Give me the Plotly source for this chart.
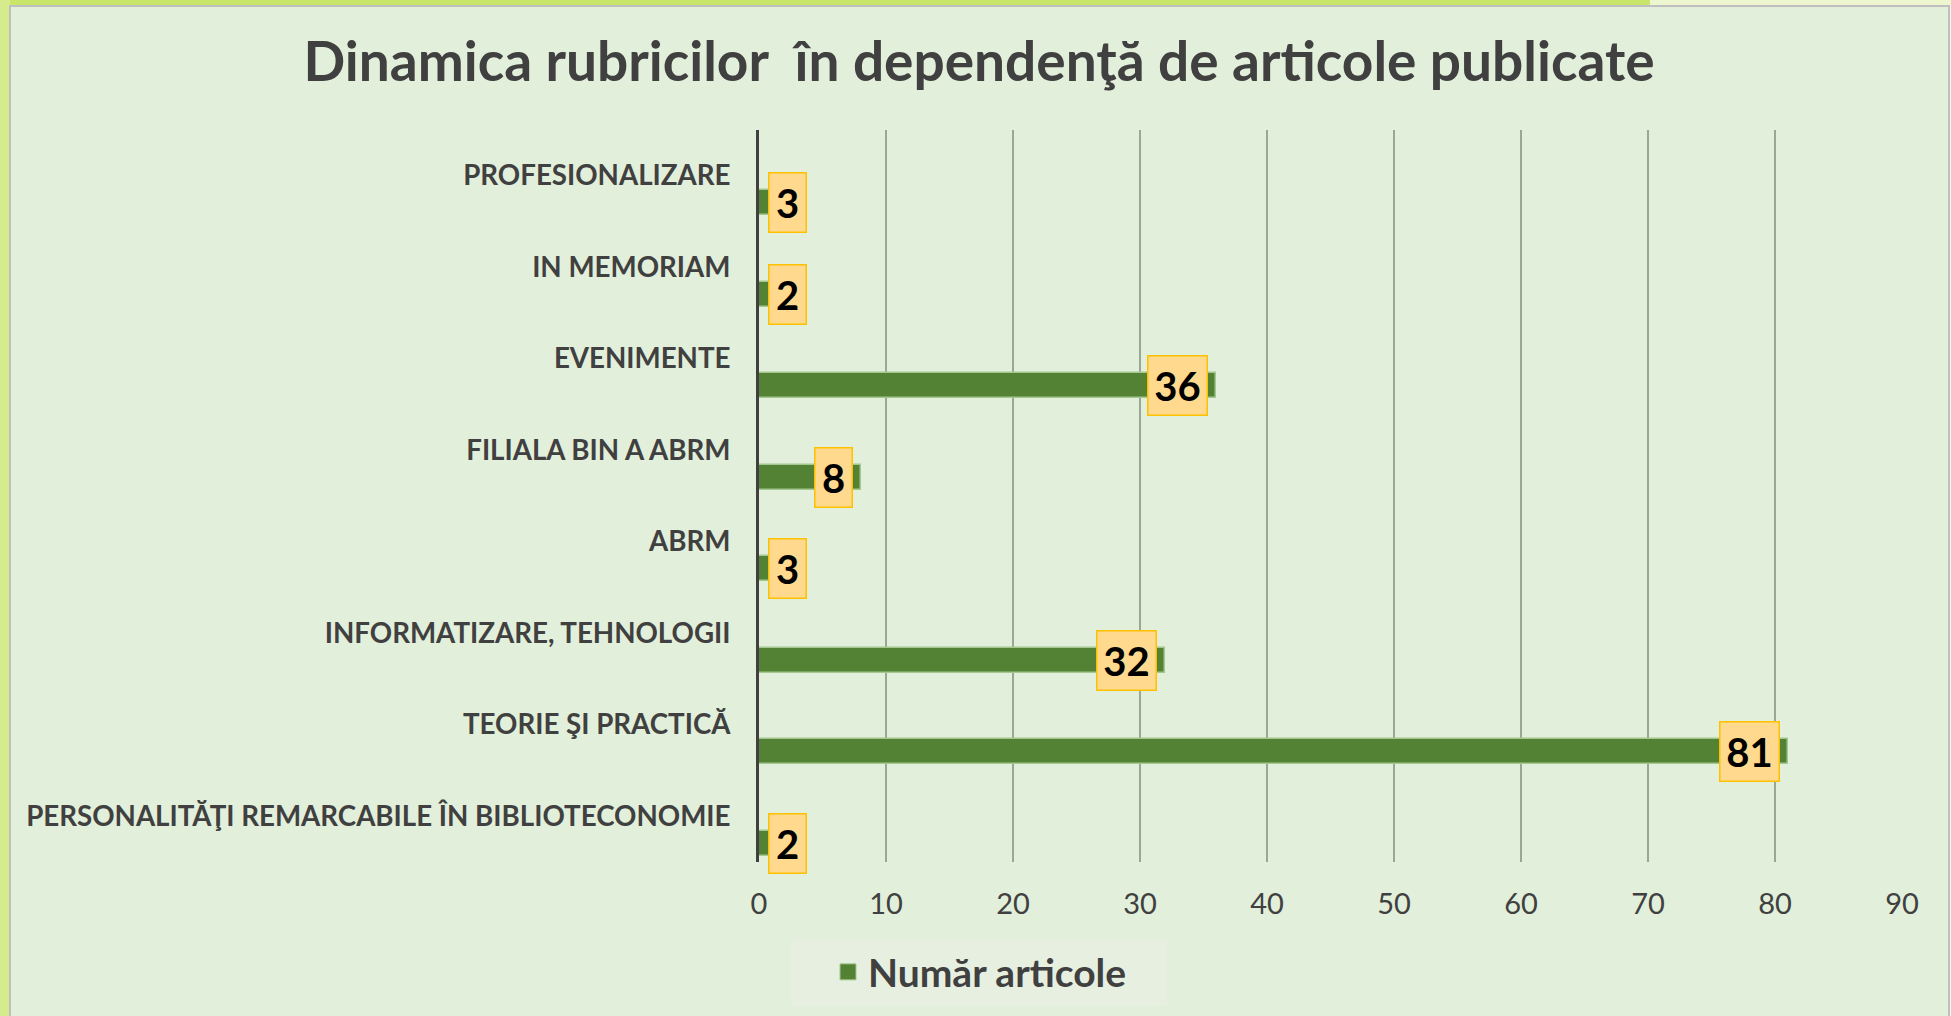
import plotly.graph_objects as go

# ---------------- data ----------------
categories = [
    "PERSONALITĂŢI REMARCABILE ÎN BIBLIOTECONOMIE",
    "TEORIE ŞI PRACTICĂ",
    "INFORMATIZARE, TEHNOLOGII",
    "ABRM",
    "FILIALA BIN A ABRM",
    "EVENIMENTE",
    "IN MEMORIAM",
    "PROFESIONALIZARE",
]
values = [2, 81, 32, 3, 8, 36, 2, 3]
x_ticks = [0, 10, 20, 30, 40, 50, 60, 70, 80, 90]
series_name = "Număr articole"
title_text = "Dinamica rubricilor  în dependenţă de articole publicate"

# ---------------- layout geometry (px) ----------------
W, H = 1951, 1016
L, R, T, B = 759, 1902, 130, 862
FONT = "Lato, Carlito, Calibri, sans-serif"
GREEN = "#548235"
TXT = "#404040"
CHART_BG = "#E2EFDA"


def px_x(px):
    return (px - L) / (R - L)


def px_y(py):
    return (B - py) / (B - T)


px_per_unit = (R - L) / (x_ticks[-1] - x_ticks[0])

fig = go.Figure()

fig.add_trace(go.Bar(
    x=values,
    y=categories,
    orientation="h",
    width=0.273,
    offset=-0.43,
    marker=dict(color=GREEN, line=dict(color="#A3C78E", width=1.5)),
    showlegend=False,
    hoverinfo="x+y",
))

# legend entry
fig.add_trace(go.Scatter(
    x=[None], y=[None], mode="markers", name=series_name,
    marker=dict(symbol="square", size=16, color=GREEN,
                line=dict(color="#A3C78E", width=1)),
    showlegend=True,
))

# data labels
annotations = []
for cat, v in zip(categories, values):
    txt = str(v)
    box_w = 22 * len(txt) + 16
    if v * px_per_unit - 8 - box_w < 9:
        ax, anchor, shift = 0, "left", 9
    else:
        ax, anchor, shift = v, "right", -8
    annotations.append(dict(
        x=ax, y=cat, xref="x", yref="y",
        text=txt, showarrow=False,
        xanchor=anchor, yanchor="middle",
        xshift=shift, yshift=-27,
        width=box_w - 4, height=56,
        bgcolor="#FFD98E", bordercolor="#FFC000", borderwidth=1.5, borderpad=1,
        font=dict(family=FONT, size=40, color="black", weight=700),
    ))

# outer frame pieces (outside chart area) + legend background
shapes = [
    dict(type="rect", xref="paper", yref="paper",
         x0=px_x(791), x1=px_x(1167), y0=px_y(1006), y1=px_y(939),
         fillcolor="#E7F0E0", line=dict(width=0), layer="below"),
    dict(type="rect", xref="paper", yref="paper",
         x0=px_x(0), x1=px_x(1650), y0=px_y(6), y1=px_y(-2),
         fillcolor="#C9E66A", line=dict(width=0), layer="above"),
    dict(type="rect", xref="paper", yref="paper",
         x0=px_x(1650), x1=px_x(1960), y0=px_y(6), y1=px_y(-2),
         fillcolor="#EEF6D0", line=dict(width=0), layer="above"),
    dict(type="rect", xref="paper", yref="paper",
         x0=px_x(-2), x1=px_x(10), y0=px_y(1020), y1=px_y(-2),
         fillcolor="#D5EC8C", line=dict(width=0), layer="above"),
    dict(type="rect", xref="paper", yref="paper",
         x0=px_x(1949), x1=px_x(1960), y0=px_y(1020), y1=px_y(6),
         fillcolor="#F4F8E6", line=dict(width=0), layer="above"),
    dict(type="rect", xref="paper", yref="paper",
         x0=px_x(10), x1=px_x(1949), y0=px_y(1030), y1=px_y(6),
         fillcolor="rgba(0,0,0,0)", line=dict(color="#BFBFBF", width=2), layer="above"),
]

fig.update_layout(
    width=W, height=H,
    margin=dict(l=L, r=W - R, t=T, b=H - B, pad=0),
    paper_bgcolor=CHART_BG,
    plot_bgcolor="rgba(0,0,0,0)",
    title=dict(text=title_text, x=979 / W, xanchor="center",
               y=1 - 62 / H, yanchor="middle", xref="container", yref="container",
               font=dict(family=FONT, size=55, color=TXT, weight=700)),
    xaxis=dict(range=[x_ticks[0], x_ticks[-1]], tickvals=x_ticks,
               showgrid=True, gridcolor="#9AA796", gridwidth=1.5,
               zeroline=False, showline=False, ticks="",
               ticklabelstandoff=22,
               tickfont=dict(family=FONT, size=29, color=TXT)),
    yaxis=dict(type="category", categoryorder="array", categoryarray=categories,
               range=[-0.5, len(categories) - 0.5],
               showgrid=False, zeroline=False,
               showline=True, linecolor=TXT, linewidth=3,
               ticks="", ticklabelstandoff=20,
               tickfont=dict(family=FONT, size=27.7, color=TXT, weight=700)),
    legend=dict(orientation="h", x=px_x(828), xanchor="left",
                y=px_y(972), yanchor="middle",
                bgcolor="rgba(0,0,0,0)", borderwidth=0,
                font=dict(family=FONT, size=39, color=TXT, weight=700)),
    annotations=annotations,
    shapes=shapes,
    bargap=0,
)

fig.write_html("out.html", config={"displayModeBar": False},
               post_script="document.body.style.margin='0';")
